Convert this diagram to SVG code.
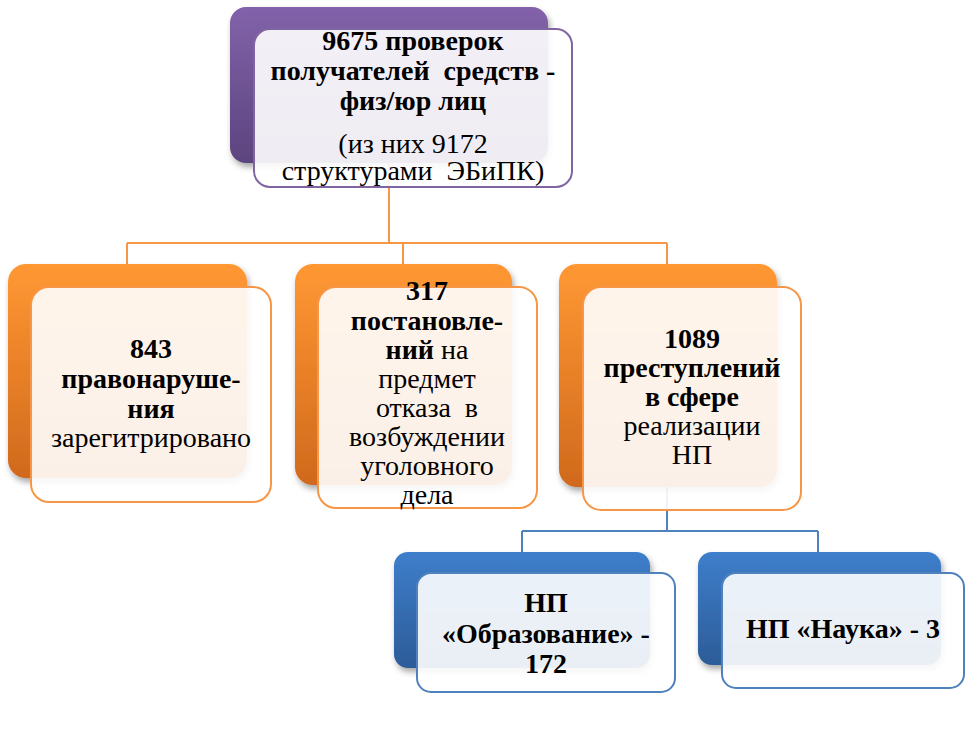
<svg xmlns="http://www.w3.org/2000/svg" width="966" height="734" viewBox="0 0 966 734">
<defs>
<linearGradient id="gP" x1="0" y1="0" x2="0" y2="1"><stop offset="0" stop-color="#8262AA"/><stop offset="1" stop-color="#5C447E"/></linearGradient>
<linearGradient id="gO" x1="0" y1="0" x2="0" y2="1"><stop offset="0" stop-color="#FF9833"/><stop offset="1" stop-color="#D0691C"/></linearGradient>
<linearGradient id="gB" x1="0" y1="0" x2="0" y2="1"><stop offset="0" stop-color="#3E7ECB"/><stop offset="1" stop-color="#2C5C98"/></linearGradient>
<filter id="sh" x="-10%" y="-10%" width="130%" height="130%"><feDropShadow dx="2" dy="4" stdDeviation="3" flood-color="#000" flood-opacity="0.35"/></filter>
</defs>
<style>
.back{filter:url(#sh)}
.front{fill:#fff;fill-opacity:0.9;stroke-width:2}
.fp{stroke:#8064A2}
.fo{stroke:#F79646}
.fb{stroke:#4F81BD}
.conO{fill:none;stroke:#F79646;stroke-width:2}
.conB{fill:none;stroke:#4F81BD;stroke-width:2}
text{font-size:28px;fill:#000;text-anchor:middle}
.b{font-weight:bold}
</style>
<rect width="966" height="734" fill="#fff"/>
<g id="connectors">
<path class="conO" d="M389,163 V243 M127,243 H667 M127,243 V264 M403,243 V264 M667,243 V264"/>
<path class="conB" d="M667,487 V531 M522,531 H818 M522,531 V552 M818,531 V552"/>
</g>
<g font-family="'Liberation Serif', 'Times New Roman', 'DejaVu Serif', serif">
<g id="top">
<rect class="back" x="230" y="7" width="318" height="156" rx="16" fill="url(#gP)"/>
<rect class="front fp" x="254" y="29" width="318" height="158" rx="16"/>
<text class="b" x="413" y="50">9675 проверок</text>
<text class="b" x="413" y="80" xml:space="preserve">получателей  средств -</text>
<text class="b" x="413" y="110">физ/юр лиц</text>
<text x="413" y="153">(из них 9172</text>
<text x="413" y="180" xml:space="preserve">структурами  ЭБиПК)</text>
</g>
<g id="n843">
<rect class="back" x="8" y="264" width="239" height="214" rx="18" fill="url(#gO)"/>
<rect class="front fo" x="31" y="287" width="240" height="215" rx="18"/>
<text class="b" x="151" y="358">843</text>
<text class="b" x="151" y="388">правонаруше-</text>
<text class="b" x="151" y="418">ния</text>
<text x="151" y="447">зарегитрировано</text>
</g>
<g id="n317">
<rect class="back" x="295" y="264" width="217" height="221" rx="18" fill="url(#gO)"/>
<rect class="front fo" x="318" y="287" width="219" height="221" rx="18"/>
<text class="b" x="427" y="300">317</text>
<text class="b" x="427" y="330">постановле-</text>
<text x="427" y="359"><tspan class="b">ний</tspan> на</text>
<text x="427" y="388">предмет</text>
<text x="427" y="417" xml:space="preserve">отказа  в</text>
<text x="427" y="446">возбуждении</text>
<text x="427" y="475">уголовного</text>
<text x="427" y="504">дела</text>
</g>
<g id="n1089">
<rect class="back" x="559" y="264" width="218" height="223" rx="18" fill="url(#gO)"/>
<rect class="front fo" x="583" y="287" width="218" height="223" rx="18"/>
<text class="b" x="692" y="348">1089</text>
<text class="b" x="692" y="377">преступлений</text>
<text class="b" x="692" y="406">в сфере</text>
<text x="692" y="435">реализации</text>
<text x="692" y="464">НП</text>
</g>
<g id="nObr">
<rect class="back" x="394" y="552" width="256" height="116" rx="14" fill="url(#gB)"/>
<rect class="front fb" x="417" y="573" width="258" height="119" rx="14"/>
<text class="b" x="546" y="612">НП</text>
<text class="b" x="546" y="643">«Образование» -</text>
<text class="b" x="546" y="673">172</text>
</g>
<g id="nNauka">
<rect class="back" x="698" y="552" width="243" height="113" rx="14" fill="url(#gB)"/>
<rect class="front fb" x="722" y="573" width="242" height="115" rx="14"/>
<text class="b" x="843" y="638">НП «Наука» - 3</text>
</g>
</g>
</svg>
